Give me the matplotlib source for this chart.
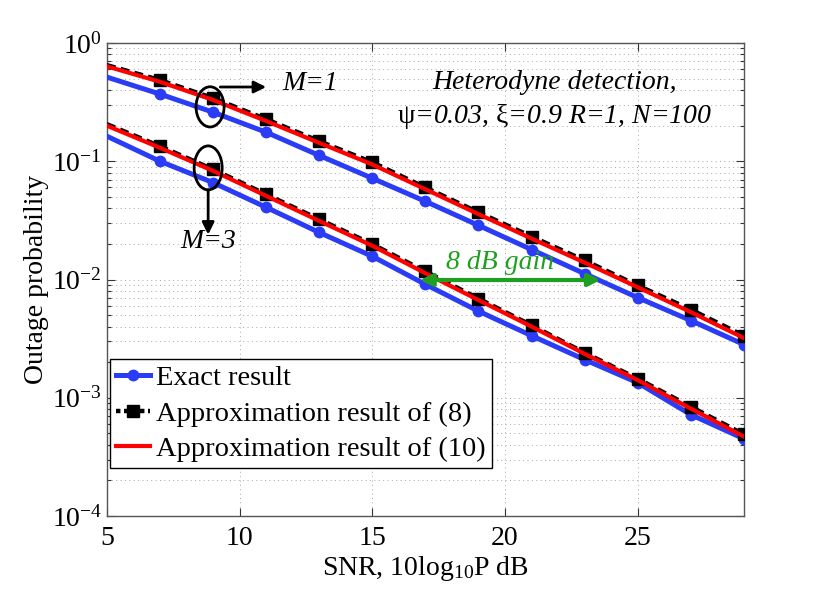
import matplotlib
matplotlib.use("Agg")
import matplotlib.pyplot as plt
from matplotlib.patches import Ellipse
from matplotlib.lines import Line2D
from matplotlib.ticker import LogLocator, NullFormatter

plt.rcParams['font.family'] = ['Liberation Serif', 'DejaVu Serif']
plt.rcParams['mathtext.fontset'] = 'custom'
plt.rcParams['mathtext.rm'] = 'Liberation Serif'
plt.rcParams['mathtext.it'] = 'Liberation Serif:italic'
plt.rcParams['mathtext.bf'] = 'Liberation Serif:bold'

# ---- data ----
snr_db = [5, 7, 9, 11, 13, 15, 17, 19, 21, 23, 25, 27, 29]
exact_m1 = [0.515, 0.37, 0.26, 0.176, 0.112, 0.0718, 0.0458, 0.0287, 0.0179, 0.0112, 0.00703, 0.0045, 0.00282]
approx8_m1 = [0.65, 0.486, 0.342, 0.227, 0.148, 0.098, 0.060, 0.037, 0.0231, 0.0145, 0.0089, 0.00557, 0.00335]
approx10_m1 = [0.635, 0.47, 0.33, 0.219, 0.143, 0.094, 0.058, 0.0357, 0.0222, 0.0139, 0.0086, 0.0053, 0.0032]
exact_m3 = [0.163, 0.100, 0.066, 0.0408, 0.025, 0.0157, 0.0091, 0.0054, 0.00335, 0.0021, 0.00134, 0.00072, 0.00045]
approx8_m3 = [0.206, 0.134, 0.0855, 0.0525, 0.0323, 0.0199, 0.0117, 0.0069, 0.0041, 0.0024, 0.00145, 0.00084, 0.00049]
approx10_m3 = [0.200, 0.130, 0.083, 0.051, 0.0313, 0.0193, 0.0113, 0.0067, 0.0040, 0.00235, 0.00141, 0.00081, 0.00047]

labels = ['Exact result', 'Approximation result of (8)', 'Approximation result of (10)']
blue = '#2a3cf5'
red = '#ff0000'
green = '#1f9f1f'

fig = plt.figure(figsize=(8.22, 5.90), dpi=100)
ax = fig.add_axes([0.130, 0.1254, 0.775, 0.8017])

me = slice(1, None)
for ex, a8, a10 in [(exact_m1, approx8_m1, approx10_m1), (exact_m3, approx8_m3, approx10_m3)]:
    ax.plot(snr_db, ex, color=blue, lw=3.6, marker='o', ms=7.5, markevery=me, zorder=3)
    ax.plot(snr_db, a8, color='black', lw=3.2, ls=(0, (2, 1.2)), marker='s', ms=8,
            markevery=me, zorder=4)
    ax.plot(snr_db, a10, color=red, lw=3.0, zorder=5)

ax.set_yscale('log')
ax.set_xlim(5, 29)
ax.set_ylim(1e-4, 1)
ax.set_xticks([5, 10, 15, 20, 25])
ax.yaxis.set_major_locator(LogLocator(base=10, numticks=10))
ax.yaxis.set_minor_locator(LogLocator(base=10, subs=range(2, 10), numticks=50))
ax.yaxis.set_minor_formatter(NullFormatter())

ax.grid(True, which='major', axis='both', color='#a8a8a8', ls=(0, (1, 3.5)), lw=0.7)
ax.grid(True, which='minor', axis='y', color='#a8a8a8', ls=(0, (1, 3.5)), lw=0.7)

ax.tick_params(which='both', direction='in', top=True, right=True, labelsize=20,
               colors='#333333', labelcolor='black')
ax.tick_params(which='major', length=6, width=0.8)
ax.tick_params(which='minor', length=3, width=0.8)
ax.tick_params(axis='x', pad=7)
for s in ax.spines.values():
    s.set_color('#555555')
    s.set_linewidth(1.0)

ax.set_xlabel('SNR, 10log$_{10}$P dB', fontsize=20, labelpad=2)
ax.set_ylabel('Outage probability', fontsize=20, labelpad=2)

# legend
handles = [
    Line2D([], [], color=blue, lw=3.6, marker='o', ms=7.5),
    Line2D([], [], color='black', lw=3.2, ls=(0, (1, 0.8)), marker='s', ms=8),
    Line2D([], [], color=red, lw=3.0),
]
leg = ax.legend(handles, labels, loc='lower left', bbox_to_anchor=(0.005, 0.101),
                fontsize=20.5, fancybox=False, edgecolor='black', framealpha=1,
                handlelength=1.2, handletextpad=0.2, borderpad=0.22, labelspacing=0.33,
                borderaxespad=0)
leg.get_frame().set_linewidth(1.0)

# annotations
ax.text(0.703, 0.879, 'Heterodyne detection,\n$\\mathrm{\\psi}$=0.03, $\\mathrm{\\xi}$=0.9 R=1, N=100',
        transform=ax.transAxes, ha='center', va='center', fontsize=20,
        style='italic', linespacing=1.35)

ax.add_patch(Ellipse((0.162, 0.865), 0.044, 0.085, transform=ax.transAxes,
                     fill=False, ec='black', lw=2, zorder=6))
ax.add_patch(Ellipse((0.159, 0.736), 0.044, 0.093, transform=ax.transAxes,
                     fill=False, ec='black', lw=2, zorder=6))
ax.annotate('', xy=(0.250, 0.907), xytext=(0.178, 0.907), xycoords='axes fraction',
            arrowprops=dict(arrowstyle='-|>', color='black', lw=2, mutation_scale=18,
                            shrinkA=0, shrinkB=0), zorder=6)
ax.annotate('', xy=(0.159, 0.595), xytext=(0.159, 0.690), xycoords='axes fraction',
            arrowprops=dict(arrowstyle='-|>', color='black', lw=2, mutation_scale=18,
                            shrinkA=0, shrinkB=0), zorder=6)
ax.text(0.276, 0.915, 'M=1', transform=ax.transAxes, ha='left', va='center',
        fontsize=20, style='italic')
ax.text(0.159, 0.580, 'M=3', transform=ax.transAxes, ha='center', va='center',
        fontsize=20, style='italic')

ax.annotate('', xy=(23.6, 0.0099), xytext=(16.8, 0.0099), xycoords='data',
            arrowprops=dict(arrowstyle='<|-|>', color=green, lw=3, mutation_scale=18,
                            shrinkA=0, shrinkB=0), zorder=7)
ax.text(19.8, 0.0140, '8 dB gain', ha='center', va='center', fontsize=20,
        style='italic', color=green, zorder=7)

fig.savefig('out.png', dpi=100)
